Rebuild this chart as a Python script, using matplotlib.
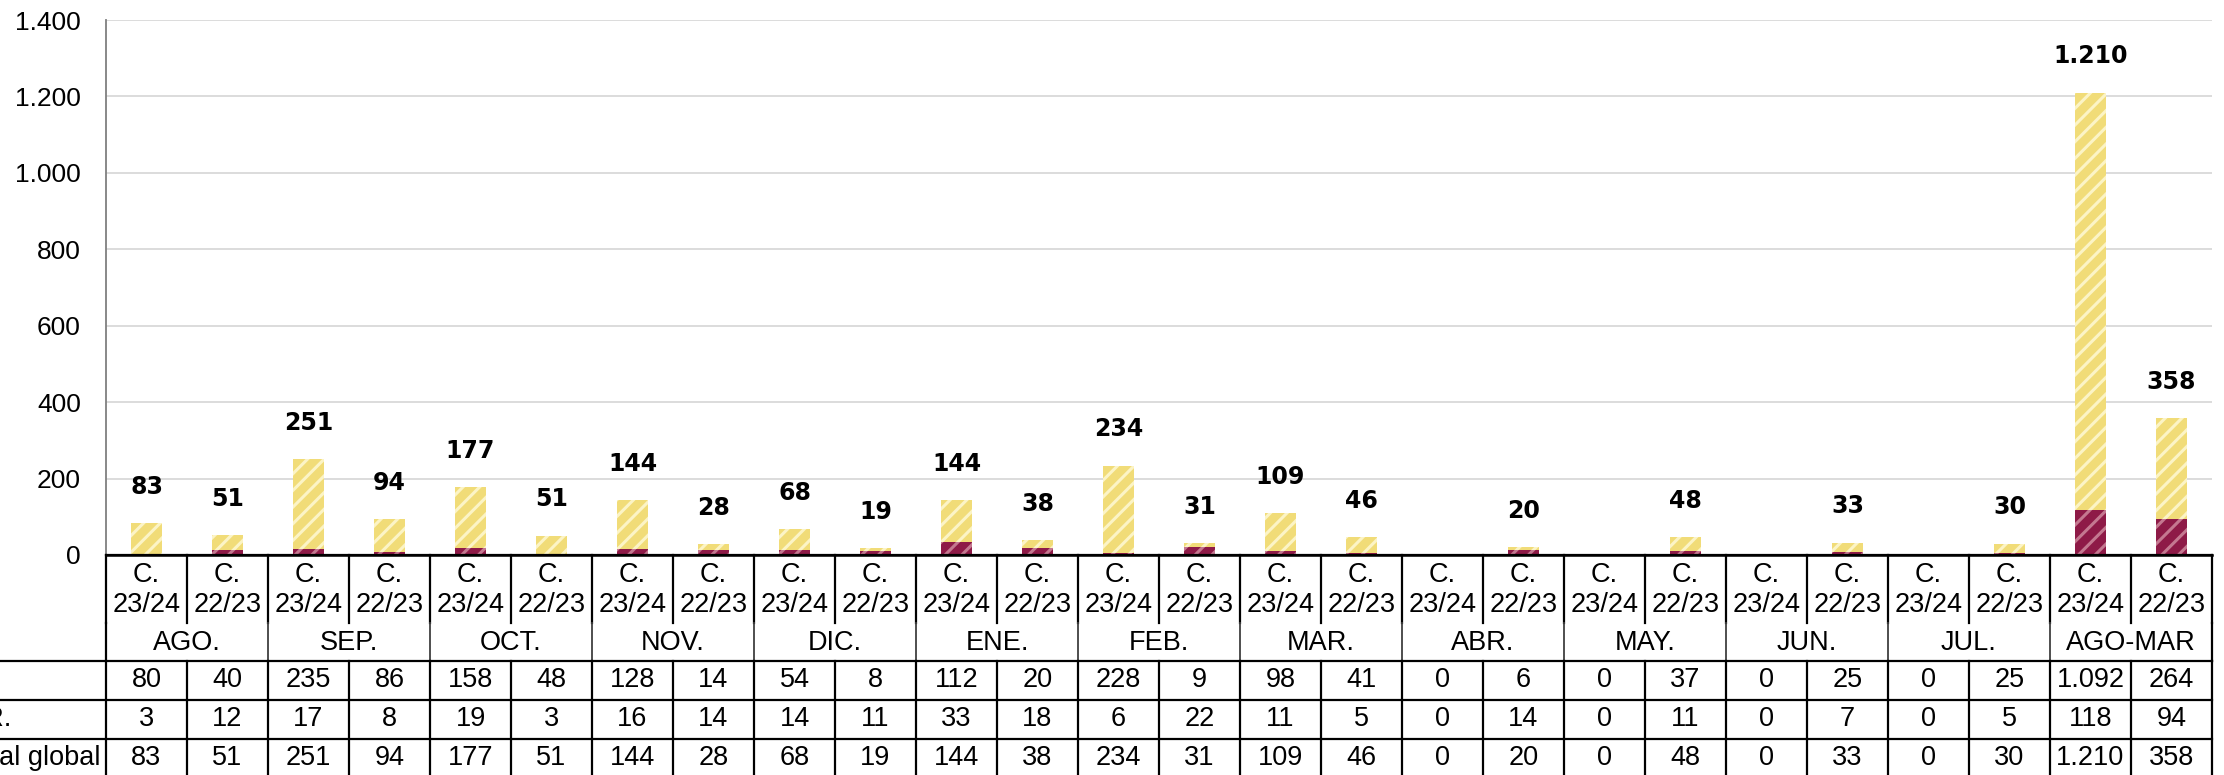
import matplotlib
matplotlib.use("Agg")
import matplotlib.pyplot as plt
import matplotlib.transforms as mtransforms
from matplotlib.lines import Line2D

months = ["AGO.", "SEP.", "OCT.", "NOV.", "DIC.", "ENE.", "FEB.", "MAR.",
          "ABR.", "MAY.", "JUN.", "JUL.", "AGO-MAR"]
seasons = ["23/24", "22/23"]
row_labels = ["P.", "P.R.", "Total global"]

serie_a = [80, 40, 235, 86, 158, 48, 128, 14, 54, 8, 112, 20, 228, 9,
           98, 41, 0, 6, 0, 37, 0, 25, 0, 25, 1092, 264]
serie_b = [3, 12, 17, 8, 19, 3, 16, 14, 14, 11, 33, 18, 6, 22,
           11, 5, 0, 14, 0, 11, 0, 7, 0, 5, 118, 94]
totals = [83, 51, 251, 94, 177, 51, 144, 28, 68, 19, 144, 38, 234, 31,
          109, 46, 0, 20, 0, 48, 0, 33, 0, 30, 1210, 358]

W, H = 2224, 775
yellow, yellow_h = "#F1DC78", "#FCF4C6"
wine, wine_h = "#8E1A47", "#C47890"
tfont = "Liberation Sans"
fs = 19.5


def fmt(v):
    return f"{v:,}".replace(",", ".")


def fy(p):
    return 1 - p / H


plt.rcParams["hatch.linewidth"] = 2.2

fig = plt.figure(figsize=(W / 100, H / 100), dpi=100)
ax = fig.add_axes([106 / W, fy(555), (2212 - 106) / W, (555 - 20) / H])

x = list(range(len(totals)))
bw = 0.395
ax.bar(x, serie_b, width=bw, color=wine, edgecolor=wine_h, hatch="//", lw=0, zorder=3)
ax.bar(x, serie_a, width=bw, bottom=serie_b, color=yellow, edgecolor=yellow_h,
       hatch="//", lw=0, zorder=3)

for i, t in enumerate(totals):
    if t > 0:
        ax.annotate(fmt(t), (i, t), xytext=(0, 26), textcoords="offset points",
                    ha="center", va="center", fontsize=17, fontweight="bold",
                    family="DejaVu Sans")

ax.set_xlim(-0.5, len(totals) - 0.5)
ax.set_ylim(0, 1400)
ax.set_yticks(range(0, 1401, 200))
ax.set_yticklabels([fmt(v) for v in range(0, 1401, 200)], family=tfont, fontsize=19)
ax.set_xticks([])
ax.tick_params(axis="y", length=0, pad=18)
ax.yaxis.grid(True, color="#d9d9d9", lw=1.3, zorder=0)
ax.set_axisbelow(True)
for s in ["top", "right"]:
    ax.spines[s].set_visible(False)
ax.spines["left"].set_color("#7f7f7f")
ax.spines["left"].set_linewidth(1.3)
ax.spines["bottom"].set_color("black")
ax.spines["bottom"].set_linewidth(1.8)

# data table below the plot
tr = mtransforms.blended_transform_factory(ax.transData, fig.transFigure)
lw = 1.6
n = len(totals)


def vline(xd, p0, p1, color="black", w=lw):
    fig.add_artist(Line2D([xd, xd], [fy(p0), fy(p1)], transform=tr, color=color, lw=w))


def hline(p, x0):
    fig.add_artist(Line2D([x0, 2212 / W], [fy(p), fy(p)], transform=fig.transFigure,
                          color="black", lw=lw))


for b in range(n + 1):
    xb = b - 0.5
    if b % 2 == 0:
        vline(xb, 555, 623)
        if b in (0, n):
            vline(xb, 623, 661)
        else:
            vline(xb, 623, 661, color="#404040", w=1.3)
        vline(xb, 661, 775)
    else:
        vline(xb, 555, 623)
        vline(xb, 661, 775)

hline(555, 106 / W)
for p in [661, 700, 739]:
    hline(p, 0)

for i in range(n):
    ax.text(i, fy(575), "C.", transform=tr, ha="center", va="center",
            family=tfont, fontsize=fs)
    ax.text(i, fy(605), seasons[i % 2], transform=tr, ha="center", va="center",
            family=tfont, fontsize=fs)
for m, name in enumerate(months):
    ax.text(2 * m + 0.5, fy(643), name, transform=tr, ha="center", va="center",
            family=tfont, fontsize=fs)

rows = [serie_a, serie_b, totals]
row_y = [680, 719, 758]
for r, vals in enumerate(rows):
    fig.text(-37 / W, fy(row_y[r]), row_labels[r], ha="left", va="center",
             family=tfont, fontsize=fs)
    for i, v in enumerate(vals):
        ax.text(i, fy(row_y[r]), fmt(v), transform=tr, ha="center", va="center",
                family=tfont, fontsize=fs)

fig.savefig("out.png", dpi=100)
